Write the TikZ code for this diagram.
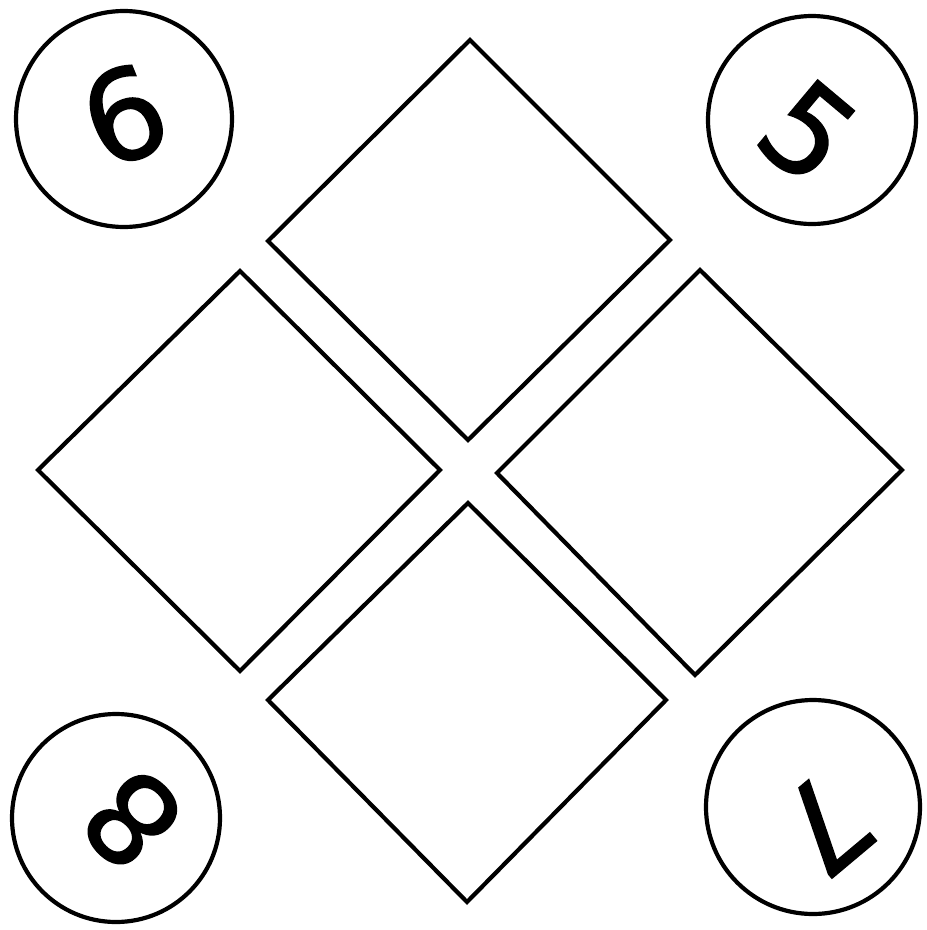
\documentclass[tikz,border=0pt]{standalone}
\usepackage{fontspec}
\setmainfont{DejaVu Sans}
\newfontfamily\digitfont[FakeBold=1.2]{DejaVu Sans}
\begin{document}
\begin{tikzpicture}[x=1pt,y=-1pt,
  box/.style={draw=black,line width=4.2pt,line join=miter},
  ring/.style={draw=black,line width=4.2pt},
  digit/.style={font=\digitfont\fontsize{124}{124}\selectfont,inner sep=0pt}]
\useasboundingbox (0,0) rectangle (927,930);
% diamonds
\draw[box] (470,40) -- (670,240) -- (468,440) -- (268,241) -- cycle;
\draw[box] (240,271) -- (440,470) -- (240,671) -- (38,470) -- cycle;
\draw[box] (700,270) -- (902,470) -- (695,675) -- (497,473) -- cycle;
\draw[box] (468,503) -- (666,700) -- (467,902) -- (268,700) -- cycle;
% circles
\draw[ring] (124,119) circle (108);
\draw[ring] (812,120) circle (104);
\draw[ring] (116,818) circle (104);
\draw[ring] (813,807) circle (107);
% digits
\node[digit,rotate=22] (d6) at (124,115) {6};
\node[digit,rotate=-40] (d5) at (808,132) {5};
\node[digit,rotate=135] (d8) at (132,820) {8};
\node[digit,rotate=-140] (d7) at (825,825) {7};
\end{tikzpicture}
\end{document}
